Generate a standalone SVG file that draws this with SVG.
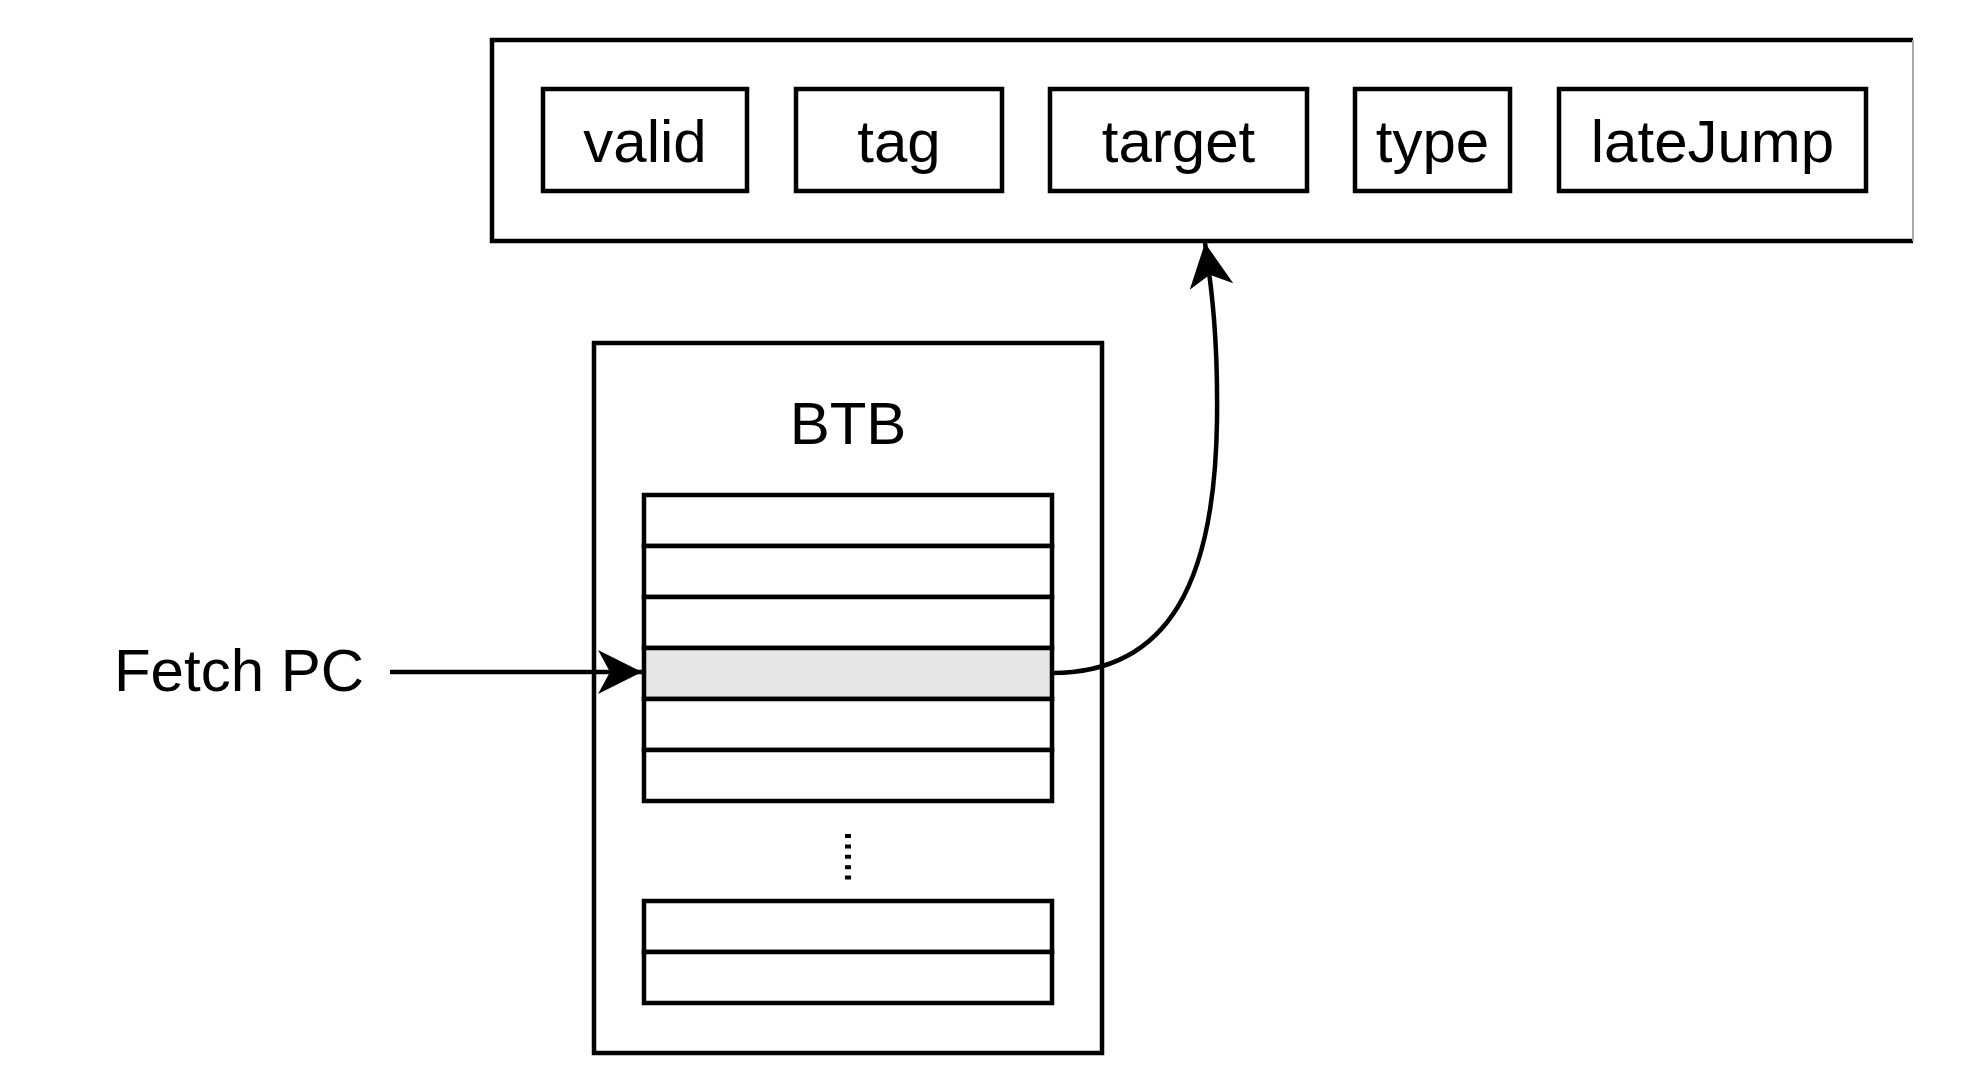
<svg xmlns="http://www.w3.org/2000/svg" width="1974" height="1066" viewBox="0 0 1974 1066">
  <style>
    .box { fill: #ffffff; stroke: #000000; stroke-width: 4.5; }
    .row { fill: #ffffff; stroke: #000000; stroke-width: 4.5; }
    .sel { fill: #e6e6e6; stroke: #000000; stroke-width: 4.5; }
    .lbl { font-family: "Liberation Sans", Arial, sans-serif; font-size: 60px; fill: #000000; text-anchor: middle; }
    .edge { fill: none; stroke: #000000; stroke-width: 4.5; }
  </style>
  <defs>
    <marker id="arrow" markerUnits="userSpaceOnUse" markerWidth="60" markerHeight="60" viewBox="-50 -30 60 60" refX="0" refY="0" orient="auto">
      <path d="M0,0 L-44,-22 L-32,0 L-44,22 Z" fill="#000000"/>
    </marker>
  </defs>
  <rect width="1974" height="1066" fill="#ffffff"/>

  <g id="entry">
    <path d="M1913,40 L492,40 L492,241 L1913,241" class="edge"/>
    <line x1="1913" y1="40" x2="1913" y2="241" stroke="#aaaaaa" stroke-width="2"/>
    <g id="field-valid">
      <rect x="543" y="89" width="204" height="102" class="box"/>
      <text x="645" y="162" class="lbl">valid</text>
    </g>
    <g id="field-tag">
      <rect x="796" y="89" width="206" height="102" class="box"/>
      <text x="899" y="162" class="lbl">tag</text>
    </g>
    <g id="field-target">
      <rect x="1050" y="89" width="257" height="102" class="box"/>
      <text x="1178.5" y="162" class="lbl">target</text>
    </g>
    <g id="field-type">
      <rect x="1355" y="89" width="155" height="102" class="box"/>
      <text x="1432.5" y="162" class="lbl">type</text>
    </g>
    <g id="field-lateJump">
      <rect x="1559" y="89" width="307" height="102" class="box"/>
      <text x="1712.5" y="162" class="lbl">lateJump</text>
    </g>
  </g>

  <g id="btb">
    <rect x="594" y="343" width="508" height="710" class="box"/>
    <text x="848" y="444" class="lbl">BTB</text>
    <g id="table-top">
      <rect x="644" y="495" width="408" height="51" class="row"/>
      <rect x="644" y="546" width="408" height="51" class="row"/>
      <rect x="644" y="597" width="408" height="51" class="row"/>
      <rect x="644" y="648" width="408" height="51" class="sel"/>
      <rect x="644" y="699" width="408" height="51" class="row"/>
      <rect x="644" y="750" width="408" height="51" class="row"/>
    </g>
    <line x1="848" y1="834" x2="848" y2="882" stroke="#000000" stroke-width="6" stroke-dasharray="4 6.4"/>
    <g id="table-bottom">
      <rect x="644" y="901" width="408" height="51" class="row"/>
      <rect x="644" y="952" width="408" height="51" class="row"/>
    </g>
  </g>

  <g id="fetch-pc">
    <text x="239" y="691" class="lbl">Fetch PC</text>
  </g>

  <g id="connectors">
    <line x1="390" y1="672" x2="642" y2="672" class="edge" marker-end="url(#arrow)"/>
    <path d="M1052,673 C1170,673 1215,580 1217,420 C1218,340 1212,290 1205,243" class="edge" marker-end="url(#arrow)"/>
  </g>
</svg>
